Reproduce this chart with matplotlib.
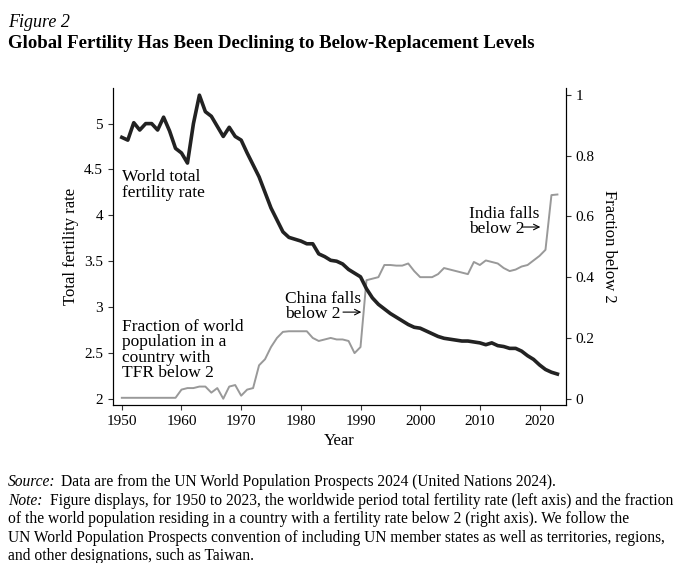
import matplotlib
matplotlib.use("Agg")
import matplotlib.pyplot as plt
import numpy as np

plt.rcParams["font.family"] = ["Liberation Serif", "DejaVu Serif"]

years = np.arange(1950, 2024)
tfr = [4.85, 4.82, 5.01, 4.93, 5.00, 5.00, 4.93, 5.07, 4.92, 4.73,
       4.68, 4.57, 5.00, 5.31, 5.13, 5.08, 4.97, 4.86, 4.96, 4.86,
       4.82, 4.68, 4.55, 4.42, 4.25, 4.08, 3.95, 3.82, 3.76, 3.74,
       3.72, 3.69, 3.69, 3.58, 3.55, 3.51, 3.50, 3.47, 3.41, 3.37,
       3.33, 3.20, 3.10, 3.03, 2.98, 2.93, 2.89, 2.85, 2.81, 2.78,
       2.77, 2.74, 2.71, 2.68, 2.66, 2.65, 2.64, 2.63, 2.63, 2.62,
       2.61, 2.59, 2.61, 2.58, 2.57, 2.55, 2.55, 2.52, 2.47, 2.43,
       2.37, 2.32, 2.29, 2.27]
frac = [0.003, 0.003, 0.003, 0.003, 0.003, 0.003, 0.003, 0.003, 0.003, 0.003,
        0.030, 0.035, 0.035, 0.040, 0.040, 0.020, 0.035, 0.000, 0.040, 0.045,
        0.010, 0.030, 0.035, 0.110, 0.130, 0.170, 0.200, 0.220, 0.222, 0.222,
        0.222, 0.222, 0.200, 0.190, 0.195, 0.200, 0.195, 0.195, 0.190, 0.150,
        0.170, 0.390, 0.395, 0.400, 0.440, 0.440, 0.438, 0.438, 0.445, 0.420,
        0.400, 0.400, 0.400, 0.410, 0.430, 0.425, 0.420, 0.415, 0.410, 0.450,
        0.440, 0.455, 0.450, 0.445, 0.430, 0.420, 0.425, 0.435, 0.440, 0.455,
        0.470, 0.490, 0.670, 0.672]

fig = plt.figure(figsize=(6.8, 5.63), dpi=100)
ax = fig.add_axes([0.166, 0.281, 0.666, 0.563])
ax2 = ax.twinx()

ax.plot(years, tfr, color="#222222", lw=2.6, zorder=3)
ax2.plot(years, frac, color="#999999", lw=1.4)
ax.set_zorder(ax2.get_zorder() + 1)
ax.patch.set_visible(False)

ax.set_xlim(1948.5, 2024.4)
ax.set_ylim(1.935, 5.39)
ax2.set_ylim(-0.02, 1.023)
ax.set_xticks(range(1950, 2021, 10))
ax.set_yticks([2, 2.5, 3, 3.5, 4, 4.5, 5])
ax.set_yticklabels(["2", "2.5", "3", "3.5", "4", "4.5", "5"])
ax2.set_yticks([0, 0.2, 0.4, 0.6, 0.8, 1])
ax2.set_yticklabels(["0", "0.2", "0.4", "0.6", "0.8", "1"])
for a in (ax, ax2):
    a.spines["top"].set_visible(False)
    a.tick_params(labelsize=11, color="#333333")
ax.set_xlabel("Year", fontsize=12)
ax.set_ylabel("Total fertility rate", fontsize=12)
ax2.set_ylabel("Fraction below 2", fontsize=12, rotation=270, labelpad=16)

ax.text(1950, 4.5, "World total\nfertility rate", fontsize=12.5, va="top", linespacing=0.95)
ax.text(1950, 2.87, "Fraction of world\npopulation in a\ncountry with\nTFR below 2",
        fontsize=12.5, va="top", linespacing=0.95)
ax2.text(1977.4, 0.355, "China falls\nbelow 2", fontsize=12.5, va="top", linespacing=0.95)
ax2.annotate("", xy=(1990.6, 0.285), xytext=(1986.6, 0.285),
             arrowprops=dict(arrowstyle="->", color="black", lw=0.8))
ax2.text(2008.2, 0.635, "India falls\nbelow 2", fontsize=12.5, va="top", linespacing=0.95)
ax2.annotate("", xy=(2020.6, 0.565), xytext=(2016.6, 0.565),
             arrowprops=dict(arrowstyle="->", color="black", lw=0.8))

fig.text(0.012, 0.975, "Figure 2", fontsize=13, style="italic", va="top")
fig.text(0.012, 0.937, "Global Fertility Has Been Declining to Below-Replacement Levels",
         fontsize=13.5, weight="bold", va="top")

fs = 11.2
fig.text(0.012, 0.158, "Source:", fontsize=fs, style="italic", va="top")
fig.text(0.089, 0.158, "Data are from the UN World Population Prospects 2024 (United Nations 2024).",
         fontsize=fs, va="top")
fig.text(0.012, 0.125, "Note:", fontsize=fs, style="italic", va="top")
fig.text(0.074, 0.125, "Figure displays, for 1950 to 2023, the worldwide period total fertility rate (left axis) and the fraction",
         fontsize=fs, va="top")
fig.text(0.012, 0.092,
         "of the world population residing in a country with a fertility rate below 2 (right axis). We follow the\n"
         "UN World Population Prospects convention of including UN member states as well as territories, regions,\n"
         "and other designations, such as Taiwan.",
         fontsize=fs, va="top", linespacing=1.2)

fig.savefig("out.png", dpi=100)
